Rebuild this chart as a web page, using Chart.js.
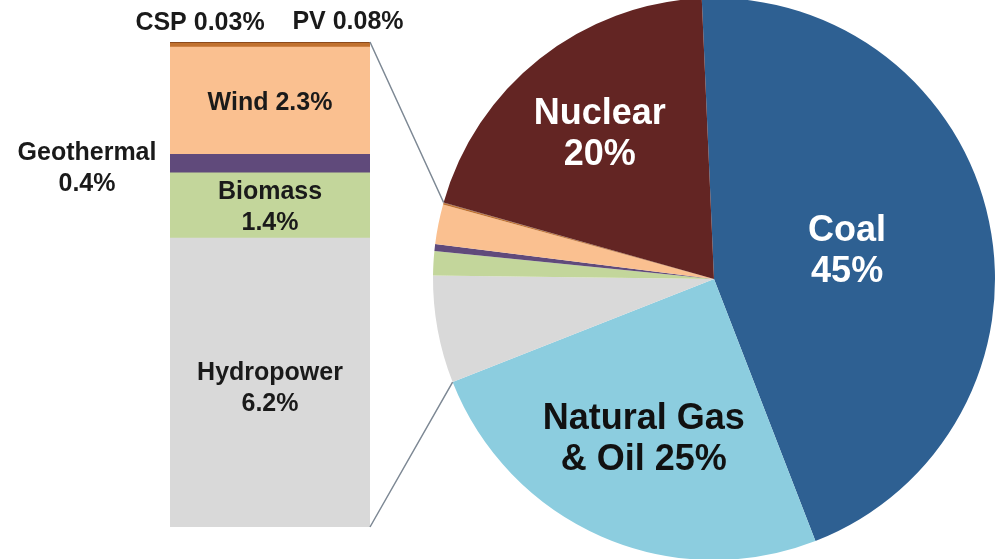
<!DOCTYPE html>
<html>
<head>
<meta charset="utf-8">
<script src="https://cdn.jsdelivr.net/npm/chart.js@4.4.1/dist/chart.umd.min.js"></script>
<style>
  body { margin: 0; background: #fff; }
  #wrap { position: relative; width: 996px; height: 559px; overflow: hidden; }
  #wrap canvas { position: absolute; left: 0; top: 0; }
</style>
</head>
<body>
<div id="wrap">
  <canvas id="barra" width="996" height="559"></canvas>
  <canvas id="pizza" width="996" height="559"></canvas>
</div>
<script>
// dados da pizza (ordem horaria a partir do topo)
const pieLabels = ['Coal', 'Natural Gas & Oil', 'Hydropower', 'Biomass', 'Geothermal', 'Wind', 'PV', 'CSP', 'Nuclear'];
const pieValues = [45, 25, 6.2, 1.4, 0.4, 2.3, 0.08, 0.03, 20];
const pieColors = ['#2e6092', '#8ccddf', '#d9d9d9', '#c3d69b', '#604a7b', '#fac090', '#c0712f', '#8b4a1c', '#632523'];

// dados da barra empilhada (de baixo para cima)
const barLabels = ['Hydropower', 'Biomass', 'Geothermal', 'Wind', 'PV', 'CSP'];
const barValues = [6.2, 1.4, 0.4, 2.3, 0.08, 0.03];
const barColors = ['#d9d9d9', '#c3d69b', '#604a7b', '#fac090', '#c0712f', '#8b4a1c'];

// textos
const pieText = { 'Coal': ['Coal', '45%'], 'Natural Gas & Oil': ['Natural Gas', '& Oil 25%'], 'Nuclear': ['Nuclear', '20%'] };
const barText = {
    'Hydropower': ['Hydropower', '6.2%'],
    'Biomass': ['Biomass', '1.4%'],
    'Geothermal': ['Geothermal', '0.4%'],
    'Wind': ['Wind 2.3%'],
    'PV': ['PV 0.08%'],
    'CSP': ['CSP 0.03%']
};

const fonte = '"Liberation Sans", Arial, sans-serif';
const totalBarra = barValues.reduce((a, b) => a + b, 0);

function escreverLinhas(ctx, linhas, x, y, alturaLinha) {
    let inicio = y - (linhas.length - 1) * alturaLinha / 2;
    linhas.forEach((l, i) => ctx.fillText(l, x, inicio + i * alturaLinha));
}

const rotulosBarra = {
    id: 'rotulosBarra',
    afterDatasetsDraw(chart) {
        const ctx = chart.ctx;
        ctx.save();
        ctx.font = 'bold 25px ' + fonte;
        ctx.fillStyle = '#1a1a1a';
        ctx.textAlign = 'center';
        ctx.textBaseline = 'middle';
        chart.data.datasets.forEach((ds, i) => {
            const el = chart.getDatasetMeta(i).data[0];
            const linhas = barText[ds.label];
            const meio = (el.y + el.base) / 2;
            const esq = el.x - el.width / 2;
            const dir = el.x + el.width / 2;
            if (ds.label === 'Geothermal') {
                escreverLinhas(ctx, linhas, esq - 83, meio + 5, 31);
            } else if (ds.label === 'PV') {
                escreverLinhas(ctx, linhas, dir - 22, el.y - 21, 31);
            } else if (ds.label === 'CSP') {
                escreverLinhas(ctx, linhas, esq + 30, el.y - 19, 31);
            } else {
                escreverLinhas(ctx, linhas, el.x, meio + (ds.label === 'Hydropower' ? 6 : 2), 31);
            }
        });
        ctx.restore();
    }
};

const graficoBarra = new Chart(document.getElementById('barra'), {
    type: 'bar',
    data: {
        labels: ['Renovaveis'],
        datasets: barLabels.map((l, i) => ({
            label: l,
            data: [barValues[i]],
            backgroundColor: barColors[i],
            borderWidth: 0,
            barPercentage: 1,
            categoryPercentage: 1
        }))
    },
    options: {
        responsive: false,
        animation: false,
        layout: { padding: { left: 170, right: 626, top: 42, bottom: 32 } },
        plugins: { legend: { display: false }, tooltip: { enabled: false } },
        scales: {
            x: { stacked: true, display: false },
            y: { stacked: true, display: false, min: 0, max: totalBarra }
        }
    },
    plugins: [rotulosBarra]
});

const rotulosPizza = {
    id: 'rotulosPizza',
    afterDraw(chart) {
        const ctx = chart.ctx;
        const arcos = chart.getDatasetMeta(0).data;
        ctx.save();

        // linhas ligando a barra a pizza
        const metaTopo = graficoBarra.getDatasetMeta(barLabels.length - 1).data[0];
        const metaBase = graficoBarra.getDatasetMeta(0).data[0];
        const nuclear = arcos[pieLabels.indexOf('Nuclear')];
        const gas = arcos[pieLabels.indexOf('Natural Gas & Oil')];
        ctx.strokeStyle = '#7d8894';
        ctx.lineWidth = 1.5;
        ctx.beginPath();
        ctx.moveTo(metaTopo.x + metaTopo.width / 2, metaTopo.y);
        ctx.lineTo(nuclear.x + Math.cos(nuclear.startAngle) * nuclear.outerRadius,
                   nuclear.y + Math.sin(nuclear.startAngle) * nuclear.outerRadius);
        ctx.moveTo(metaBase.x + metaBase.width / 2, metaBase.base);
        ctx.lineTo(gas.x + Math.cos(gas.endAngle) * gas.outerRadius,
                   gas.y + Math.sin(gas.endAngle) * gas.outerRadius);
        ctx.stroke();

        // textos dentro das fatias
        const estilo = {
            'Coal': { r: 136, cor: '#ffffff' },
            'Natural Gas & Oil': { r: 175, cor: '#111111' },
            'Nuclear': { r: 184, cor: '#ffffff' }
        };
        ctx.font = 'bold 36px ' + fonte;
        ctx.textAlign = 'center';
        ctx.textBaseline = 'middle';
        pieLabels.forEach((nome, i) => {
            if (!pieText[nome]) return;
            const a = arcos[i];
            const meio = (a.startAngle + a.endAngle) / 2;
            ctx.fillStyle = estilo[nome].cor;
            escreverLinhas(ctx, pieText[nome],
                a.x + Math.cos(meio) * estilo[nome].r,
                a.y + Math.sin(meio) * estilo[nome].r, 41);
        });
        ctx.restore();
    }
};

new Chart(document.getElementById('pizza'), {
    type: 'pie',
    data: {
        labels: pieLabels,
        datasets: [{
            data: pieValues,
            backgroundColor: pieColors,
            borderWidth: 0,
            clip: false
        }]
    },
    options: {
        responsive: false,
        animation: false,
        rotation: -2.5,
        radius: 281,
        layout: { padding: { left: 432, right: 0, top: 0, bottom: 1 } },
        plugins: { legend: { display: false }, tooltip: { enabled: false } }
    },
    plugins: [rotulosPizza]
});
</script>
</body>
</html>
